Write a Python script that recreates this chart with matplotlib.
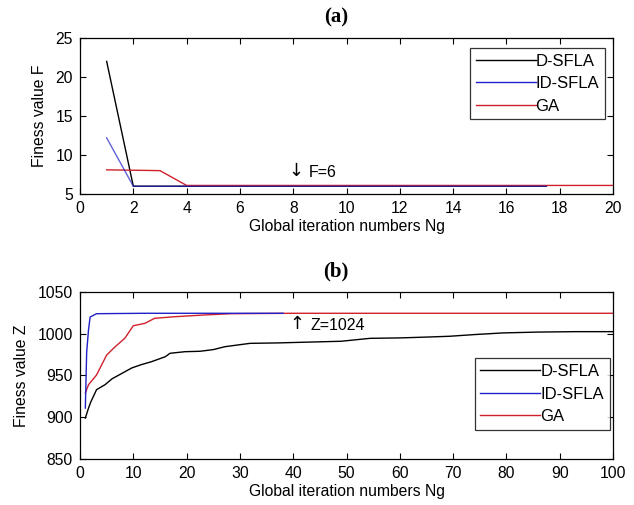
import matplotlib
matplotlib.use("Agg")
import matplotlib.pyplot as plt

plt.rcParams['font.family'] = ['Liberation Sans', 'DejaVu Sans']

# ---- panel (a) data ----
a_dsfla_x = [1, 2, 17.5]
a_dsfla_y = [22, 6, 6]
a_idsfla_x = [1, 2, 4, 17.5]
a_idsfla_y = [12.2, 6, 6, 6]
a_ga_x = [1, 3, 4, 20]
a_ga_y = [8.1, 8.0, 6.1, 6.1]

# ---- panel (b) data ----
b_dsfla_x = [1, 1.6, 2, 3.1, 4.7, 6, 8, 9.7, 11.5, 13.4, 16, 16.9, 19.7, 22.5, 25,
             27.2, 31.9, 37, 43, 49, 54.4, 60, 65, 69.4, 74, 79.4, 86, 93, 100]
b_dsfla_y = [899, 911, 918, 933, 939, 946, 953, 959, 963, 966.5, 972.5, 976.6, 978.5, 979, 981,
             984.5, 988.5, 989, 990, 991, 994.5, 995, 996, 997, 999, 1001, 1002, 1002.5, 1002.5]
b_idsfla_x = [1, 1.25, 1.6, 1.9, 3.1, 12, 38.1]
b_idsfla_y = [911, 978, 1005, 1020, 1024, 1024.5, 1024.5]
b_ga_x = [1, 1.6, 3.1, 5, 6.6, 8.4, 10, 12.2, 14, 17.8, 23.4, 28.4, 40, 100]
b_ga_y = [929, 939, 950.6, 974.5, 984.5, 994.5, 1009.6, 1012.5, 1018.5, 1020.4, 1022.5, 1024, 1024.5, 1024.5]

labels = ['D-SFLA', 'ID-SFLA', 'GA']
colors = ['#000000', '#2020c8', '#d0202c']

a_xticks = list(range(0, 21, 2))
a_yticks = [5, 10, 15, 20, 25]
b_xticks = list(range(0, 101, 10))
b_yticks = [850, 900, 950, 1000, 1050]

fig = plt.figure(figsize=(6.34, 5.05), dpi=100)
ax1 = fig.add_axes([0.1262, 0.6158, 0.8407, 0.3089])
ax2 = fig.add_axes([0.1262, 0.0911, 0.8407, 0.3307])

def style(ax):
    ax.tick_params(direction='in', top=True, right=True, length=4, labelsize=11.3, width=0.8, pad=5)
    for s in ax.spines.values():
        s.set_linewidth(0.9)

def legend(ax, handles, anchor):
    leg = ax.legend(handles, labels, loc='upper right', bbox_to_anchor=anchor,
                    fancybox=False, edgecolor='black', fontsize=12,
                    handlelength=3.6, handletextpad=0.0, borderpad=0.35, labelspacing=0.45,
                    borderaxespad=0.0)
    leg.get_frame().set_linewidth(0.9)
    for lh in leg.get_lines():
        lh.set_alpha(1)
    return leg

l1, = ax1.plot(a_dsfla_x, a_dsfla_y, color=colors[0], lw=1.0, zorder=1)
l3, = ax1.plot(a_ga_x, a_ga_y, color=colors[2], lw=1.0, zorder=2)
l2, = ax1.plot(a_idsfla_x, a_idsfla_y, color=colors[1], lw=1.0, zorder=3, alpha=0.7)
ax1.set_xlim(0, 20)
ax1.set_ylim(5, 25)
ax1.set_xticks(a_xticks)
ax1.set_yticks(a_yticks)
style(ax1)
ax1.set_xlabel('Global iteration numbers Ng', fontsize=11.3, labelpad=2)
ax1.set_ylabel('Finess value F', fontsize=11.3, labelpad=6)
ax1.text(8.12, 8.0, '\u2193', fontsize=13, va='center', ha='center', family='DejaVu Sans')
ax1.text(8.6, 7.7, 'F=6', fontsize=11.5, va='center', ha='left')
ax1.set_title('(a)', fontsize=15, fontweight='bold', family='Liberation Serif', pad=11, x=0.48)
legend(ax1, [l1, l2, l3], (0.985, 0.938))

m1, = ax2.plot(b_dsfla_x, b_dsfla_y, color=colors[0], lw=1.0, zorder=1)
m3, = ax2.plot(b_ga_x, b_ga_y, color=colors[2], lw=1.0, zorder=2)
m2, = ax2.plot(b_idsfla_x, b_idsfla_y, color=colors[1], lw=1.0, zorder=3)
ax2.set_xlim(0, 100)
ax2.set_ylim(850, 1050)
ax2.set_xticks(b_xticks)
ax2.set_yticks(b_yticks)
style(ax2)
ax2.set_xlabel('Global iteration numbers Ng', fontsize=11.3, labelpad=2)
ax2.set_ylabel('Finess value Z', fontsize=11.3, labelpad=6)
ax2.text(40.7, 1012, '\u2191', fontsize=13, va='center', ha='center', family='DejaVu Sans')
ax2.text(43.2, 1010, 'Z=1024', fontsize=11.5, va='center', ha='left')
ax2.set_title('(b)', fontsize=15, fontweight='bold', family='Liberation Serif', pad=11, x=0.48)
legend(ax2, [m1, m2, m3], (0.994, 0.603))

fig.savefig('out.png', dpi=100)
